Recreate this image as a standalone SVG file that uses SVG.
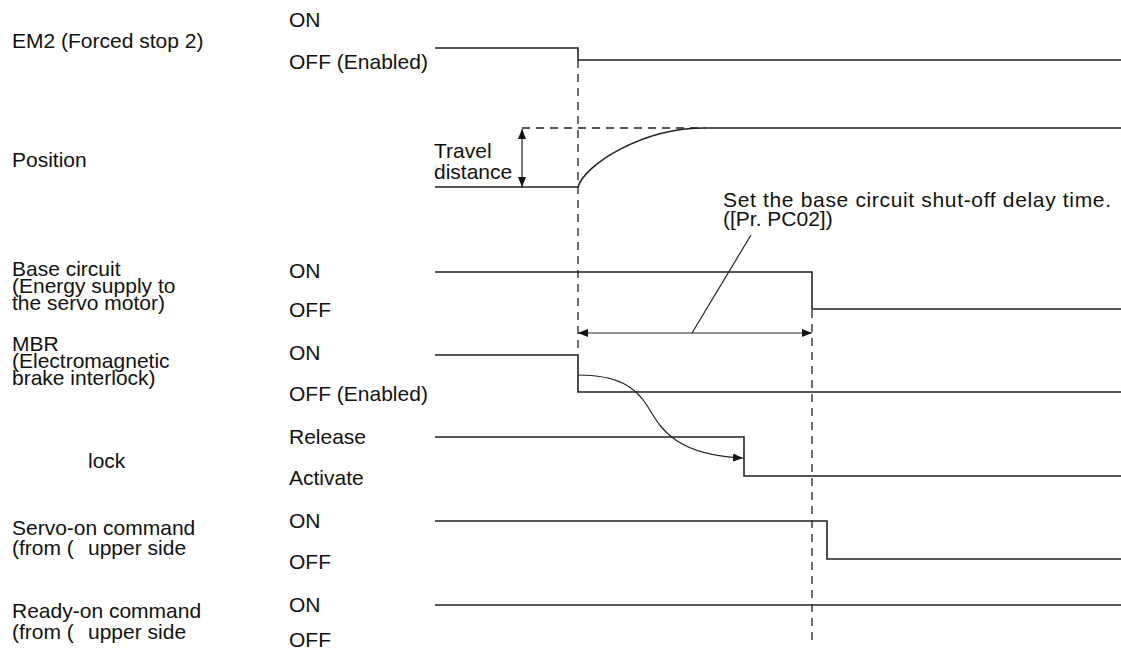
<svg xmlns="http://www.w3.org/2000/svg" width="1121" height="650" viewBox="0 0 1121 650">
<defs>
<style>
text{font-family:"Liberation Sans",Arial,sans-serif;font-size:21px;fill:#111}
.sig{fill:none;stroke:#222;stroke-width:1.6}
.dash{fill:none;stroke:#222;stroke-width:1.3;stroke-dasharray:8 6}
.thin{fill:none;stroke:#222;stroke-width:1.2}
</style>
<marker id="ah" viewBox="0 0 10 8" refX="10" refY="4" markerWidth="10" markerHeight="8" markerUnits="userSpaceOnUse" orient="auto-start-reverse">
<path d="M0,0 L10,4 L0,8 Z" fill="#111"/>
</marker>
</defs>
<rect width="1121" height="650" fill="#fff"/>

<g id="labels">
<text x="12" y="48">EM2 (Forced stop 2)</text>
<text x="12" y="167">Position</text>
<text x="12" y="276">Base circuit</text>
<text x="12" y="293">(Energy supply to</text>
<text x="12" y="310">the servo motor)</text>
<text x="12" y="351">MBR</text>
<text x="12" y="368">(Electromagnetic</text>
<text x="12" y="385">brake interlock)</text>
<text x="88" y="468">lock</text>
<text x="12" y="535">Servo-on command</text>
<text x="12" y="555">(from (</text>
<text x="88" y="555">upper side</text>
<text x="12" y="618">Ready-on command</text>
<text x="12" y="639">(from (</text>
<text x="88" y="639">upper side</text>
</g>

<g id="states">
<text x="289" y="27">ON</text>
<text x="289" y="69">OFF (Enabled)</text>
<text x="289" y="278">ON</text>
<text x="289" y="317">OFF</text>
<text x="289" y="360">ON</text>
<text x="289" y="401">OFF (Enabled)</text>
<text x="289" y="444">Release</text>
<text x="289" y="485">Activate</text>
<text x="289" y="528">ON</text>
<text x="289" y="569">OFF</text>
<text x="289" y="612">ON</text>
<text x="289" y="647">OFF</text>
</g>

<g id="annotations">
<text x="434" y="158">Travel</text>
<text x="434" y="179">distance</text>
<text x="723" y="207" textLength="388" lengthAdjust="spacing">Set the base circuit shut-off delay time.</text>
<text x="723" y="226">([Pr. PC02])</text>
</g>

<g id="signals">
<path id="em2" class="sig" d="M435,48 H578 V60 H1121"/>
<path id="position" class="sig" d="M435,187 H578 C584,166 640,128 705,128 H1121"/>
<path id="base" class="sig" d="M435,272 H812 V309 H1121"/>
<path id="mbr" class="sig" d="M435,355 H578 V392 H1121"/>
<path id="lock" class="sig" d="M435,437 H744 V476 H1121"/>
<path id="servo" class="sig" d="M435,521 H827 V559 H1121"/>
<path id="ready" class="sig" d="M435,605 H1121"/>
</g>

<g id="connectors">
<path class="dash" d="M578,60 V352"/>
<path class="dash" d="M812,310 V642"/>
<path class="dash" d="M522,128 H705"/>
<path class="thin" d="M522,129 V187" marker-start="url(#ah)" marker-end="url(#ah)"/>
<path class="thin" d="M578,333 H812" marker-start="url(#ah)" marker-end="url(#ah)"/>
<path class="thin" d="M692,333 L751,235"/>
<path class="thin" d="M578,375 C618,375 636,387 648,407 S674,455 743,458" marker-end="url(#ah)"/>
</g>
</svg>
